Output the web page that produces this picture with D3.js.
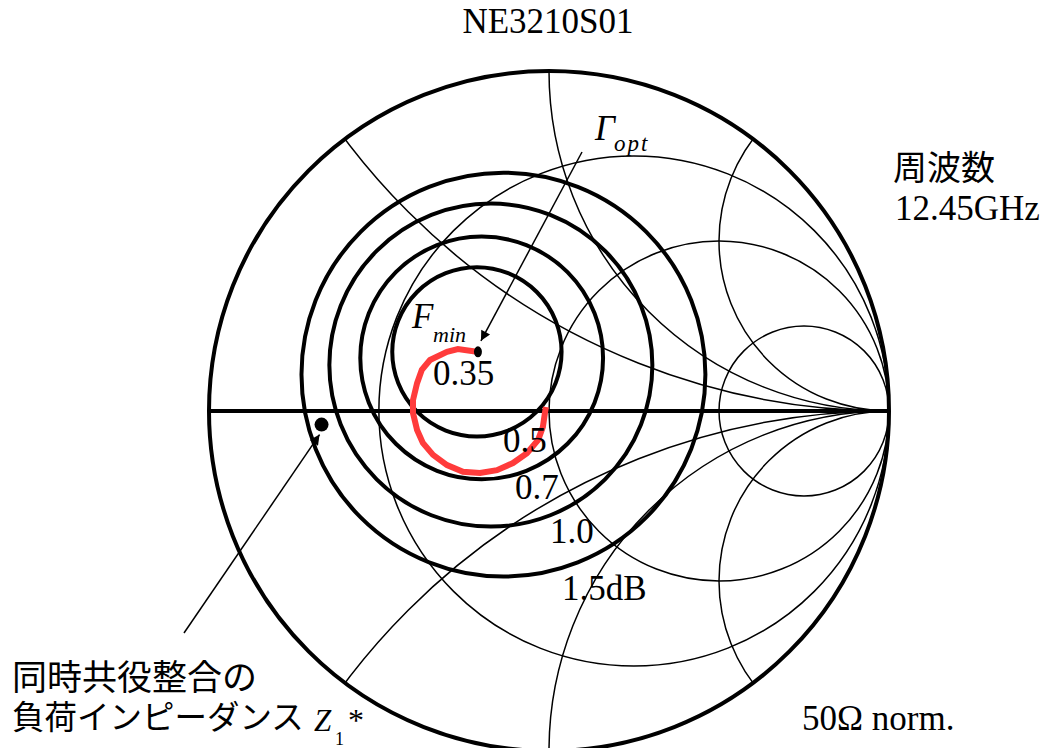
<!DOCTYPE html>
<html><head><meta charset="utf-8">
<script src="https://cdn.jsdelivr.net/npm/d3@7"></script>
<style>
  html, body { margin: 0; padding: 0; background: #fff; }
  svg { display: block; }
</style>
</head><body>
<script>
// Smith chart grid (normalized to 50 Ω)
const resistanceCircles = [0.333, 1, 3];
const reactanceArcs = [0.5, 1, 2, -0.5, -1, -2];

// Noise-figure circles (reflection-coefficient plane)
const noiseLabels = ["0.5", "0.7", "1.0", "1.5dB"];
const noiseCenterRe = [-0.212, -0.198, -0.171, -0.134];
const noiseCenterIm = [0.174, 0.156, 0.135, 0.107];
const noiseRadius = [0.249, 0.357, 0.475, 0.594];

// Minimum noise figure point (Γopt)
const fminLabel = "0.35";
const gammaOpt = [-0.209, 0.174];

// Γopt locus over frequency
const locusRe = [-0.212, -0.268, -0.300, -0.350, -0.374, -0.388, -0.400, -0.400, -0.388, -0.371,
                 -0.341, -0.300, -0.253, -0.203, -0.153, -0.106, -0.065, -0.032, -0.018, -0.012, -0.009];
const locusIm = [0.174, 0.182, 0.174, 0.150, 0.121, 0.082, 0.032, -0.006, -0.056, -0.094,
                 -0.129, -0.159, -0.179, -0.182, -0.174, -0.153, -0.124, -0.085, -0.047, -0.006, 0.012];

// Simultaneous conjugate-match load impedance Z1*
const z1Conj = [-0.669, -0.040];
const z1Caption = ["同時共役整合の", "負荷インピーダンス"];

const W = 1048, H = 748;
const cx = 549, cy = 411, R = 340;

const svg = d3.select("body").append("svg").attr("width", W).attr("height", H);

const x = d3.scaleLinear().domain([-1, 1]).range([cx - R, cx + R]);
const y = d3.scaleLinear().domain([-1, 1]).range([cy + R, cy - R]);
const rs = d3.scaleLinear().domain([0, 1]).range([0, R]);

const serif = "'Liberation Serif','Times New Roman',serif";
const cjk = "'Noto Sans CJK JP','Noto Sans CJK SC',sans-serif";

const defs = svg.append("defs");
defs.append("clipPath").attr("id", "unit")
  .append("circle").attr("cx", x(0)).attr("cy", y(0)).attr("r", rs(1));

defs.append("marker")
  .attr("id", "head").attr("viewBox", "0 0 10 10")
  .attr("refX", 10).attr("refY", 5)
  .attr("markerWidth", 15).attr("markerHeight", 10)
  .attr("markerUnits", "userSpaceOnUse").attr("orient", "auto")
  .append("path").attr("d", "M0,0 L10,5 L0,10 Z").attr("fill", "#000");

// Thin grid: resistance circles and reactance arcs
const grid = svg.append("g").attr("clip-path", "url(#unit)")
  .attr("fill", "none").attr("stroke", "#000").attr("stroke-width", 1.5);

grid.selectAll("circle.res").data(resistanceCircles).join("circle")
  .attr("class", "res")
  .attr("cx", r => x(r / (1 + r)))
  .attr("cy", y(0))
  .attr("r", r => rs(1 / (1 + r)));

grid.selectAll("circle.reac").data(reactanceArcs).join("circle")
  .attr("class", "reac")
  .attr("cx", x(1))
  .attr("cy", v => y(1 / v))
  .attr("r", v => rs(1 / Math.abs(v)));

// Outer boundary and real axis
svg.append("circle")
  .attr("cx", x(0)).attr("cy", y(0)).attr("r", rs(1))
  .attr("fill", "none").attr("stroke", "#000").attr("stroke-width", 4);

svg.append("line")
  .attr("x1", x(-1)).attr("x2", x(1)).attr("y1", y(0)).attr("y2", y(0))
  .attr("stroke", "#000").attr("stroke-width", 4);

// Noise circles
svg.append("g").selectAll("circle").data(noiseLabels).join("circle")
  .attr("cx", (d, i) => x(noiseCenterRe[i]))
  .attr("cy", (d, i) => y(noiseCenterIm[i]))
  .attr("r", (d, i) => rs(noiseRadius[i]))
  .attr("fill", "none").attr("stroke", "#000").attr("stroke-width", 4);

// Γopt locus
const locus = locusRe.map((v, i) => [v, locusIm[i]]);
svg.append("path")
  .attr("d", d3.line().x(d => x(d[0])).y(d => y(d[1]))(locus))
  .attr("fill", "none").attr("stroke", "#ff3b3b").attr("stroke-width", 6);

// Points
svg.append("ellipse")
  .attr("cx", x(gammaOpt[0])).attr("cy", y(gammaOpt[1]))
  .attr("rx", 4).attr("ry", 5.5).attr("fill", "#000");

svg.append("circle")
  .attr("cx", x(z1Conj[0])).attr("cy", y(z1Conj[1]))
  .attr("r", 7).attr("fill", "#000");

// Annotation arrows
svg.append("line")
  .attr("x1", 582).attr("y1", 152)
  .attr("x2", x(gammaOpt[0]) + 3).attr("y2", y(gammaOpt[1]) - 11)
  .attr("stroke", "#000").attr("stroke-width", 1.5)
  .attr("marker-end", "url(#head)");

svg.append("line")
  .attr("x1", 184).attr("y1", 633)
  .attr("x2", x(z1Conj[0]) - 2).attr("y2", y(z1Conj[1]) + 10)
  .attr("stroke", "#000").attr("stroke-width", 1.5)
  .attr("marker-end", "url(#head)");

// Text
function txt(t, px, py, size, opts = {}) {
  return svg.append("text")
    .attr("x", px).attr("y", py)
    .attr("font-family", opts.family || serif)
    .attr("font-size", size)
    .attr("font-style", opts.italic ? "italic" : "normal")
    .attr("text-anchor", opts.anchor || "start")
    .attr("letter-spacing", opts.spacing || 0)
    .attr("fill", "#000")
    .text(t);
}

txt("NE3210S01", 548, 33, 35, { anchor: "middle" });
txt("周波数", 893, 180, 34, { family: cjk });
txt("12.45GHz", 895, 220, 35);
txt("50Ω norm.", 802, 730, 35);

txt("Γ", 595, 140, 35, { italic: true });
txt("opt", 614, 151, 23, { italic: true, spacing: 2 });
txt("F", 412, 328, 35, { italic: true });
txt("min", 433, 342, 22, { italic: true });
txt(fminLabel, 433, 385, 35);

const labelPos = [[503, 452], [515, 499], [550, 543], [562, 600]];
noiseLabels.forEach((l, i) => txt(l, labelPos[i][0], labelPos[i][1], 35));

// Two-line caption for Z1*
const caption = svg.append("text")
  .attr("font-family", cjk).attr("fill", "#000");
caption.append("tspan").attr("x", 12).attr("y", 690)
  .attr("font-size", 35).text(z1Caption[0]);
caption.append("tspan").attr("x", 12).attr("y", 729)
  .attr("font-size", 32.5).text(z1Caption[1]);

txt("Z", 314, 731, 31, { italic: true });
txt("1", 335, 745, 18);
txt("*", 348, 731, 32);
</script>
</body></html>
